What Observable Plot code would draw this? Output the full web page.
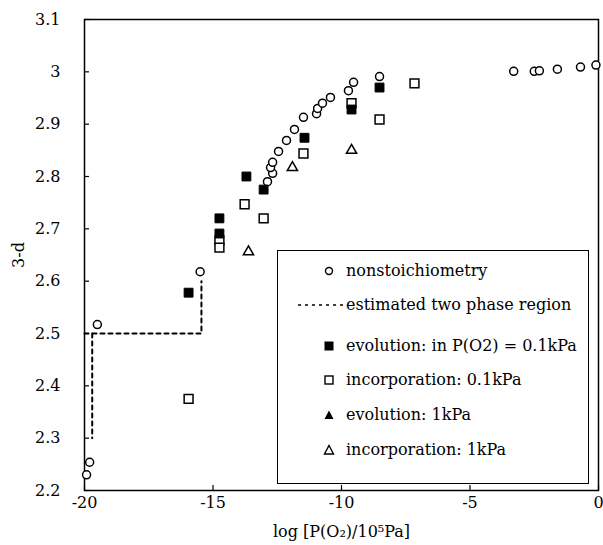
<!DOCTYPE html>
<html>
<head>
<meta charset="utf-8">
<script src="https://cdn.jsdelivr.net/npm/d3@7"></script>
<script src="https://cdn.jsdelivr.net/npm/@observablehq/plot@0.6"></script>
<style>
  html, body { margin: 0; padding: 0; background: #fff; }
  #wrap { position: relative; width: 603px; height: 545px; overflow: hidden; font-family: "DejaVu Serif", "Liberation Serif", serif; }
  #wrap svg text { font-family: "DejaVu Serif", "Liberation Serif", serif; }
  #legend { position: absolute; left: 277px; top: 250px; width: 312px; height: 234px; border: 1px solid #000; background: #fff; box-sizing: border-box; }
  .row { position: absolute; left: 0; height: 20px; font-size: 16px; color: #000; white-space: nowrap; }
  .row svg { position: absolute; }
  .row span { position: absolute; left: 68px; top: 0; line-height: 20px; }
</style>
</head>
<body>
<div id="wrap"></div>
<script>
// ---- data ----
const nonstoichX = [-19.92, -19.8, -19.5, -15.5, -12.88, -12.68, -12.76, -12.68, -12.45, -12.14, -11.83, -11.48, -10.97, -10.93, -10.74, -10.43, -9.73, -9.53, -8.52, -3.3, -2.5, -2.3, -1.6, -0.7, -0.1];
const nonstoichY = [2.23, 2.254, 2.517, 2.618, 2.790, 2.806, 2.817, 2.827, 2.848, 2.869, 2.890, 2.913, 2.920, 2.930, 2.940, 2.951, 2.964, 2.980, 2.991, 3.001, 3.001, 3.002, 3.005, 3.009, 3.013];

const evol01X = [-15.95, -14.75, -14.75, -13.7, -13.03, -11.44, -9.61, -8.52];
const evol01Y = [2.578, 2.720, 2.691, 2.800, 2.775, 2.874, 2.928, 2.970];

const inc01X = [-15.95, -14.75, -14.75, -13.77, -13.03, -11.48, -9.61, -8.52, -7.16];
const inc01Y = [2.375, 2.678, 2.664, 2.747, 2.720, 2.844, 2.940, 2.909, 2.978];

const evol1X = [];
const evol1Y = [];

const inc1X = [-13.62, -11.91, -9.61];
const inc1Y = [2.656, 2.817, 2.850];

const phaseSeg = ["a", "a", "a", "b", "b"];
const phaseX = [-20, -15.45, -15.45, -19.7, -19.7];
const phaseY = [2.5, 2.5, 2.6, 2.5, 2.3];

const xTicks = [-20, -15, -10, -5, 0];
const yTicks = [2.2, 2.3, 2.4, 2.5, 2.6, 2.7, 2.8, 2.9, 3.0, 3.1];
const yTickLabels = ["2.2", "2.3", "2.4", "2.5", "2.6", "2.7", "2.8", "2.9", "3", "3.1"];

const legendLabels = ["nonstoichiometry", "estimated two phase region", "evolution: in P(O2) = 0.1kPa", "incorporation: 0.1kPa", "evolution: 1kPa", "incorporation: 1kPa"];

// ---- tables ----
const zip = (xs, ys) => xs.map((x, i) => ({x, y: ys[i]}));
const nonstoich = zip(nonstoichX, nonstoichY);
const evol01 = zip(evol01X, evol01Y);
const inc01 = zip(inc01X, inc01Y);
const evol1 = zip(evol1X, evol1Y);
const inc1 = zip(inc1X, inc1Y);
const phase = phaseX.map((x, i) => ({x, y: phaseY[i], seg: phaseSeg[i]}));

const font = "DejaVu Serif, Liberation Serif, serif";
const chart = Plot.plot({
  width: 603,
  height: 545,
  marginLeft: 84,
  marginRight: 5,
  marginTop: 19,
  marginBottom: 55,
  style: {fontFamily: font, fontSize: "16px", background: "#fff", color: "#000", overflow: "hidden"},
  x: {domain: [-20, 0]},
  y: {domain: [2.2, 3.1]},
  marks: [
    Plot.frame({stroke: "#000", strokeWidth: 1.5}),
    Plot.axisY(yTicks, {anchor: "left", tickSize: -5, tickFormat: () => "", label: null, strokeWidth: 1.2}),
    Plot.axisY(yTicks, {anchor: "left", tickSize: 0, tickPadding: 24, tickFormat: (d, i) => yTickLabels[i], fontSize: 16, label: "3-d", labelAnchor: "center", labelOffset: 72, labelArrow: "none"}),
    Plot.axisX(xTicks, {anchor: "bottom", tickSize: -5, tickFormat: () => "", label: null, strokeWidth: 1.2}),
    Plot.axisX(xTicks, {anchor: "bottom", tickSize: 0, tickPadding: 6, tickFormat: d => String(d), fontSize: 16, label: "log [P(O\u2082)/10\u2075Pa]", labelAnchor: "center", labelOffset: 46, labelArrow: "none"}),
    Plot.line(phase, {x: "x", y: "y", z: "seg", stroke: "#000", strokeWidth: 2, strokeDasharray: "4,4"}),
    Plot.dot(nonstoich, {x: "x", y: "y", symbol: "circle", r: 4, fill: "#fff", stroke: "#000", strokeWidth: 1.5}),
    Plot.dot(inc01, {x: "x", y: "y", symbol: "square", r: 5, fill: "#fff", stroke: "#000", strokeWidth: 1.5}),
    Plot.dot(evol01, {x: "x", y: "y", symbol: "square", r: 5, fill: "#000", stroke: "#000", strokeWidth: 1}),
    Plot.dot(evol1, {x: "x", y: "y", symbol: "triangle", r: 3.8, fill: "#000", stroke: "#000", strokeWidth: 1}),
    Plot.dot(inc1, {x: "x", y: "y", symbol: "triangle", r: 3.8, fill: "#fff", stroke: "#000", strokeWidth: 1.5})
  ]
});

const wrap = document.getElementById("wrap");
wrap.appendChild(chart);

// ---- legend (inside plot area, as in the reference) ----
const legend = document.createElement("div");
legend.id = "legend";
const rowTops = [10, 44, 85, 119, 154, 189];
const symbols = [
  '<circle cx="10" cy="10" r="3.5" fill="#fff" stroke="#000" stroke-width="1.4"/>',
  '<line x1="-21" y1="10" x2="27" y2="10" stroke="#000" stroke-width="1.6" stroke-dasharray="3,4"/>',
  '<rect x="5.5" y="5.5" width="9" height="9" fill="#000"/>',
  '<rect x="6" y="6" width="8" height="8" fill="#fff" stroke="#000" stroke-width="1.4"/>',
  '<path d="M10,5.5 L14.5,14 L5.5,14 Z" fill="#000"/>',
  '<path d="M10,5.5 L14.5,14 L5.5,14 Z" fill="#fff" stroke="#000" stroke-width="1.4"/>'
];
legendLabels.forEach((lab, i) => {
  const row = document.createElement("div");
  row.className = "row";
  row.style.top = rowTops[i] + "px";
  row.style.width = "310px";
  row.innerHTML = `<svg width="60" height="20" viewBox="-21 0 60 20" style="left:20px;top:0;overflow:visible">${symbols[i]}</svg><span>${lab}</span>`;
  legend.appendChild(row);
});
wrap.appendChild(legend);
</script>
</body>
</html>
